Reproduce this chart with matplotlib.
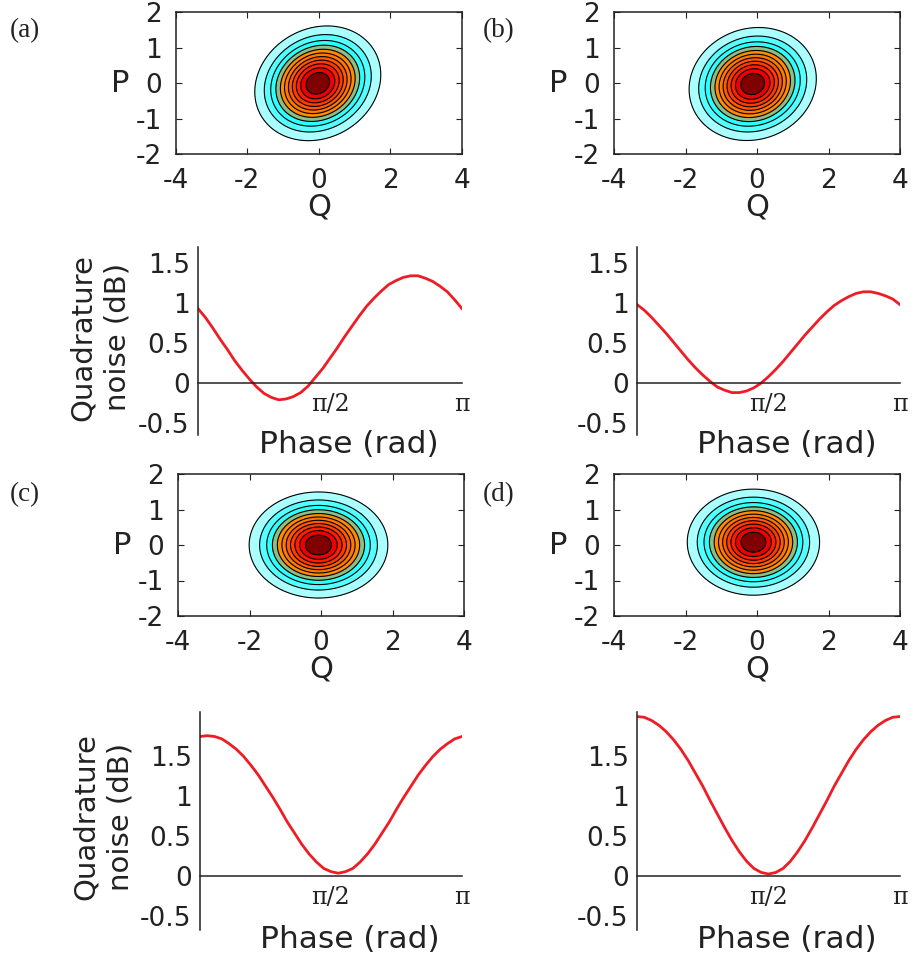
import numpy as np
import matplotlib.pyplot as plt

plt.rcParams['axes.unicode_minus'] = False
plt.rcParams['font.family'] = 'DejaVu Sans'

# Tamaño de la figura en píxeles
W, H = 917, 959

# Curvas de ruido de cuadratura (dB) leídas cada 5 grados de fase (0 a 180)
phase_deg = np.arange(0, 181, 5)
noise_a = [0.93, 0.82, 0.69, 0.55, 0.42, 0.28, 0.16, 0.05, -0.05, -0.13,
           -0.18, -0.21, -0.20, -0.17, -0.12, -0.04, 0.07, 0.18, 0.31, 0.44,
           0.58, 0.71, 0.84, 0.96, 1.06, 1.15, 1.23, 1.28, 1.32, 1.34,
           1.34, 1.31, 1.27, 1.21, 1.14, 1.04, 0.93]
noise_b = [0.98, 0.91, 0.82, 0.72, 0.62, 0.51, 0.40, 0.29, 0.19, 0.10,
           0.02, -0.05, -0.09, -0.12, -0.12, -0.10, -0.06, 0.00, 0.08, 0.17,
           0.27, 0.38, 0.49, 0.60, 0.70, 0.80, 0.89, 0.97, 1.03, 1.08,
           1.12, 1.14, 1.14, 1.12, 1.09, 1.05, 0.98]
noise_c = [1.75, 1.76, 1.75, 1.72, 1.66, 1.59, 1.50, 1.39, 1.27, 1.13,
           0.99, 0.84, 0.68, 0.54, 0.40, 0.28, 0.18, 0.10, 0.06, 0.04,
           0.06, 0.10, 0.18, 0.28, 0.40, 0.54, 0.68, 0.84, 0.99, 1.13,
           1.27, 1.39, 1.50, 1.59, 1.66, 1.72, 1.75]
noise_d = [2.00, 1.99, 1.95, 1.89, 1.81, 1.71, 1.59, 1.45, 1.29, 1.13,
           0.95, 0.78, 0.61, 0.45, 0.31, 0.19, 0.10, 0.05, 0.03, 0.05,
           0.10, 0.19, 0.31, 0.45, 0.61, 0.78, 0.95, 1.13, 1.29, 1.45,
           1.59, 1.71, 1.81, 1.89, 1.95, 1.99, 2.00]

# Parámetros de la función de Wigner (gaussiana) de cada panel
wig_q0 = [-0.03, -0.12, -0.07, -0.10]
wig_p0 = [0.00, -0.02, 0.00, 0.08]
wig_sig_major = [0.82, 0.81, 0.87, 0.83]
wig_sig_minor = [0.69, 0.70, 0.67, 0.67]
wig_tilt_deg = [30, 20, 0, 0]

panel_tags = ['(a)', '(b)', '(c)', '(d)']
contour_levels = np.arange(1, 12) / 12
fill_colors = ['#aaffff', '#55ffff', '#2bffff', '#88c088', '#ff8c00', '#ff7800',
               '#ff5a00', '#ff3c00', '#ff1e00', '#ee0000', '#800000']
red = '#ee1c24'
ink = '#222222'

fig = plt.figure(figsize=(W / 100, H / 100), dpi=100)


def px_axes(left, top, right, bottom):
    return fig.add_axes([left / W, 1 - bottom / H, (right - left) / W, (bottom - top) / H])


q = np.linspace(-4, 4, 401)
p = np.linspace(-2, 2, 201)
Qg, Pg = np.meshgrid(q, p)

# Posiciones (px): contornos y curvas de ruido
contour_boxes = [(175.7, 12.3, 462, 154.3), (614, 12.3, 900, 154.3),
                 (178, 474, 464, 616), (614, 474, 900, 616)]
noise_boxes = [(198, 247, 462, 435), (637, 247, 900, 435),
               (200, 711.7, 462, 930), (637, 711.7, 900, 930)]
noise_ylims = [(-0.65, 1.70), (-0.65, 1.70), (-0.67, 2.06), (-0.67, 2.06)]
noise_data = [noise_a, noise_b, noise_c, noise_d]
tag_pos = [(10, 31), (483, 31), (10, 495), (483, 495)]

for i in range(4):
    # --- Función de Wigner ---
    ax = px_axes(*contour_boxes[i])
    t = np.deg2rad(wig_tilt_deg[i])
    u = (Qg - wig_q0[i]) * np.cos(t) + (Pg - wig_p0[i]) * np.sin(t)
    v = -(Qg - wig_q0[i]) * np.sin(t) + (Pg - wig_p0[i]) * np.cos(t)
    Wf = np.exp(-u**2 / (2 * wig_sig_major[i]**2) - v**2 / (2 * wig_sig_minor[i]**2))
    ax.contourf(q, p, Wf, levels=list(contour_levels) + [1.01], colors=fill_colors)
    ax.contour(q, p, Wf, levels=contour_levels, colors='k', linewidths=0.8)
    ax.set_xlim(-4, 4)
    ax.set_ylim(-2, 2)
    ax.set_xticks([-4, -2, 0, 2, 4], ['-4', '-2', '0', '2', '4'])
    ax.set_yticks([-2, -1, 0, 1, 2], ['-2', '-1', '0', '1', '2'])
    ax.tick_params(direction='in', length=4, top=True, right=True,
                   labelsize=19, pad=10, colors=ink, labelcolor=ink)
    for s in ax.spines.values():
        s.set_linewidth(1.1)
        s.set_color(ink)
    ax.text(-0.195, 0.5, 'P', transform=ax.transAxes, ha='center', va='center',
            fontsize=22, color=ink)
    ax.text(0.5, -0.37, 'Q', transform=ax.transAxes, ha='center', va='center',
            fontsize=22, color=ink)

    # --- Ruido de cuadratura ---
    ax2 = px_axes(*noise_boxes[i])
    ax2.plot(np.deg2rad(phase_deg), noise_data[i], color=red, lw=2)
    ax2.set_xlim(0, np.pi)
    ax2.set_ylim(*noise_ylims[i])
    ax2.spines['top'].set_visible(False)
    ax2.spines['right'].set_visible(False)
    ax2.spines['bottom'].set_position(('data', 0))
    for s in ['left', 'bottom']:
        ax2.spines[s].set_linewidth(1.1)
        ax2.spines[s].set_color(ink)
    ax2.set_xticks([np.pi / 2, np.pi], ['π/2', 'π'])
    ax2.set_yticks([-0.5, 0, 0.5, 1, 1.5], ['-0.5', '0', '0.5', '1', '1.5'])
    ax2.tick_params(axis='y', length=0, labelsize=19, pad=6, labelcolor=ink)
    ax2.tick_params(axis='x', length=0, pad=7, labelcolor=ink)
    for lab in ax2.get_xticklabels():
        lab.set_fontfamily('DejaVu Serif')
        lab.set_fontsize(17)
    ax2.annotate('Phase (rad)', xy=(0.57, 0), xycoords='axes fraction',
                 xytext=(0, -7), textcoords='offset points', ha='center', va='center',
                 fontsize=22.5, color=ink)
    if i in (0, 2):
        ax2.text(-0.37, 0.52, 'Quadrature\nnoise (dB)', transform=ax2.transAxes,
                 rotation=90, ha='center', va='center', fontsize=21,
                 linespacing=1.3, color=ink)

    fig.text(tag_pos[i][0] / W, 1 - tag_pos[i][1] / H, panel_tags[i],
             ha='left', va='center', fontsize=19.5, family='Liberation Serif', color=ink)

fig.savefig('out.png', dpi=100)
